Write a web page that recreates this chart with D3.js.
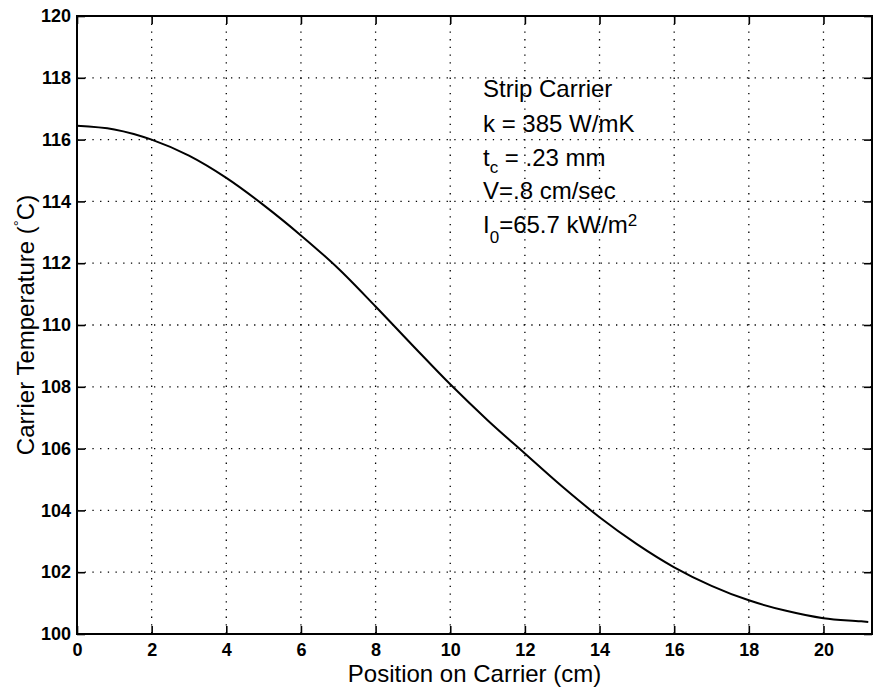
<!DOCTYPE html>
<html>
<head>
<meta charset="utf-8">
<script src="https://cdn.jsdelivr.net/npm/d3@7/dist/d3.min.js"></script>
<style>
  html, body { margin: 0; padding: 0; background: #fff; }
  text { font-family: "Liberation Sans", Arial, Helvetica, sans-serif; }
</style>
</head>
<body>
<svg id="chart" width="878" height="692"></svg>
<script>
// ---- data ----
const positions = [0, 1, 2, 3, 4, 5, 6, 7, 8, 9, 10, 11, 12, 13, 14, 15, 16, 17, 18, 19, 20, 21, 21.2];
const temperatures = [116.45, 116.33, 116.0, 115.48, 114.76, 113.88, 112.9, 111.83, 110.6, 109.33, 108.08, 106.92, 105.84, 104.77, 103.78, 102.91, 102.16, 101.56, 101.09, 100.75, 100.51, 100.41, 100.39];
const xTicks = [0, 2, 4, 6, 8, 10, 12, 14, 16, 18, 20];
const yTicks = [100, 102, 104, 106, 108, 110, 112, 114, 116, 118, 120];
const xDomain = [0, 21.3];
const yDomain = [100, 120];
const xTitle = "Position on Carrier (cm)";
const annotationLines = ["Strip Carrier", "k = 385 W/mK", "t_c = .23 mm", "V=.8 cm/sec", "I_0=65.7 kW/m^2"];

// ---- layout ----
const svg = d3.select("#chart");
const L = 77, R = 872, T = 16, B = 634;
const x = d3.scaleLinear().domain(xDomain).range([L, R]);
const y = d3.scaleLinear().domain(yDomain).range([B, T]);

// grid
const grid = svg.append("g");
grid.selectAll("line.gx").data(xTicks.filter(d => d > xDomain[0] && d < xDomain[1]))
  .enter().append("line")
  .attr("x1", d => x(d)).attr("x2", d => x(d)).attr("y1", T).attr("y2", B)
  .attr("stroke", "#000").attr("stroke-width", 1.3).attr("stroke-dasharray", "1.3 6.4");
grid.selectAll("line.gy").data(yTicks.filter(d => d > yDomain[0] && d < yDomain[1]))
  .enter().append("line")
  .attr("x1", L).attr("x2", R).attr("y1", d => y(d)).attr("y2", d => y(d))
  .attr("stroke", "#000").attr("stroke-width", 1.3).attr("stroke-dasharray", "1.3 6.4");

// axes with inward ticks
const tickLen = 8;
const axB = svg.append("g").attr("transform", `translate(0,${B})`)
  .call(d3.axisBottom(x).tickValues(xTicks).tickSizeInner(-tickLen).tickSizeOuter(0).tickPadding(9));
const axT = svg.append("g").attr("transform", `translate(0,${T})`)
  .call(d3.axisTop(x).tickValues(xTicks).tickSizeInner(-tickLen).tickSizeOuter(0).tickFormat(""));
const axL = svg.append("g").attr("transform", `translate(${L},0)`)
  .call(d3.axisLeft(y).tickValues(yTicks).tickSizeInner(-tickLen).tickSizeOuter(0).tickPadding(6));
const axR = svg.append("g").attr("transform", `translate(${R},0)`)
  .call(d3.axisRight(y).tickValues(yTicks).tickSizeInner(-tickLen).tickSizeOuter(0).tickFormat(""));

[axB, axT, axL, axR].forEach(a => {
  a.select(".domain").remove();
  a.selectAll(".tick line").attr("stroke", "#000").attr("stroke-width", 1.6);
  a.selectAll(".tick text").attr("fill", "#000").style("font-size", "18px").style("font-weight", "bold");
});
axB.selectAll(".tick text").attr("dy", "0.71em");

// frame
svg.append("rect").attr("x", L).attr("y", T).attr("width", R - L).attr("height", B - T)
  .attr("fill", "none").attr("stroke", "#000").attr("stroke-width", 2);

// curve
const line = d3.line().x((d, i) => x(positions[i])).y(d => y(d)).curve(d3.curveMonotoneX);
svg.append("path").datum(temperatures).attr("d", line)
  .attr("fill", "none").attr("stroke", "#000").attr("stroke-width", 2);

// axis titles
svg.append("text").attr("x", (L + R) / 2).attr("y", 682).attr("text-anchor", "middle")
  .style("font-size", "24px").text(xTitle);

const yt = svg.append("text").attr("transform", `translate(34,${(T + B) / 2}) rotate(-90)`)
  .attr("text-anchor", "middle").style("font-size", "24px");
yt.append("tspan").text("Carrier Temperature (");
yt.append("tspan").attr("dy", -10).style("font-size", "15px").text("°");
yt.append("tspan").attr("dy", 10).text("C)");

// annotation
const ax0 = 483, baselines = [97, 132, 166, 199, 233];
function richLine(str, i) {
  const t = svg.append("text").attr("x", ax0).attr("y", baselines[i]).style("font-size", "24px");
  const parts = str.split(/([_^]\w)/).filter(p => p);
  const subDrop = i === annotationLines.length - 1 ? 10 : 7;
  let shift = 0;
  parts.forEach(p => {
    let target = 0, size = null, txt = p;
    if (p[0] === "_") { target = subDrop; size = "17px"; txt = p[1]; }
    else if (p[0] === "^") { target = -7; size = "17px"; txt = p[1]; }
    const ts = t.append("tspan").attr("dy", target - shift).text(txt);
    if (size) ts.style("font-size", size);
    shift = target;
  });
}
annotationLines.forEach(richLine);
</script>
</body>
</html>
